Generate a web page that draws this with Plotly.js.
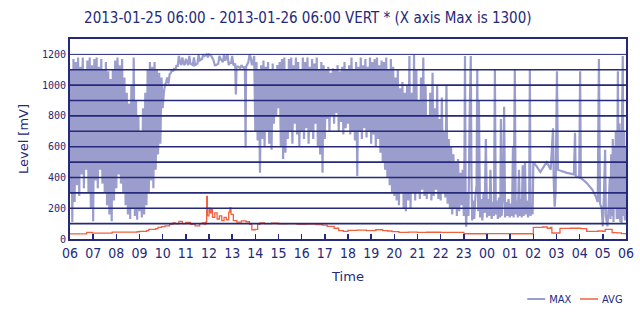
<!DOCTYPE html>
<html>
<head>
<meta charset="utf-8">
<script src="https://cdn.plot.ly/plotly-3.0.1.min.js"></script>
<style>
html,body{margin:0;padding:0;background:#fff;}
#chart{width:640px;height:320px;}
</style>
</head>
<body>
<div id="chart"></div>
<script>
// Hours after 2013-01-25 06:00
const hourTicks = [0,1,2,3,4,5,6,7,8,9,10,11,12,13,14,15,16,17,18,19,20,21,22,23,24];
const hourLabels = ['06','07','08','09','10','11','12','13','14','15','16','17','18','19','20','21','22','23','00','01','02','03','04','05','06'];
const levelTicks = [0,200,400,600,800,1000,1200];
const levelLabels = ['0','200','400','600','800','1000','1200'];
const gridLevels = [100,200,300,400,500,600,700,800,900,1000,1100,1200];

const maxTime = [
0.00,0.05,0.10,0.15,0.20,0.25,0.30,0.35,0.40,0.45,0.50,0.55,0.60,0.65,0.70,0.75,0.80,0.85,0.90,0.95,
1.00,1.05,1.10,1.15,1.20,1.25,1.30,1.35,1.40,1.45,1.50,1.55,1.60,1.65,1.70,1.75,1.80,1.85,1.90,1.95,
2.00,2.05,2.10,2.15,2.20,2.25,2.30,2.35,2.40,2.45,2.50,2.55,2.60,2.65,2.70,2.75,2.80,2.85,2.90,2.95,
3.00,3.05,3.10,3.15,3.20,3.25,3.30,3.35,3.40,3.45,3.50,3.55,3.60,3.65,3.70,3.75,3.80,3.85,3.90,3.95,
4.00,4.05,4.10,4.15,4.20,4.25,4.30,4.35,4.40,4.45,4.50,4.55,4.60,4.65,4.70,4.75,4.80,4.85,4.90,4.95,
5.00,5.10,5.15,5.20,5.30,5.35,5.40,5.50,5.55,5.60,5.70,5.75,5.80,5.90,5.95,
6.00,6.10,6.20,6.25,6.30,6.40,6.45,6.50,6.60,6.65,6.70,6.80,6.85,6.90,6.95,
7.00,7.05,7.13,7.16,7.19,7.25,7.35,7.40,7.50,7.55,7.58,7.60,7.70,7.75,7.80,7.85,7.90,7.95,
8.00,8.05,8.10,8.15,8.20,8.25,8.30,8.35,8.40,8.45,8.50,8.55,8.60,8.65,8.70,8.75,8.80,8.85,8.90,8.95,
9.00,9.05,9.10,9.15,9.20,9.25,9.30,9.35,9.40,9.45,9.50,9.55,9.60,9.65,9.70,9.75,9.80,9.85,9.90,9.95,
10.00,10.05,10.10,10.15,10.20,10.25,10.30,10.35,10.40,10.45,10.50,10.55,10.60,10.65,10.70,10.75,10.80,10.85,10.90,10.95,
11.00,11.05,11.10,11.15,11.20,11.25,11.30,11.35,11.40,11.45,11.50,11.55,11.60,11.65,11.70,11.75,11.80,11.85,11.90,11.95,
12.00,12.05,12.10,12.15,12.20,12.25,12.30,12.35,12.40,12.45,12.50,12.55,12.60,12.65,12.70,12.75,12.80,12.85,12.90,12.95,
13.00,13.05,13.10,13.15,13.20,13.25,13.30,13.35,13.40,13.45,13.50,13.55,13.60,13.65,13.70,13.75,13.80,13.85,13.90,13.95,
14.00,14.05,14.10,14.15,14.20,14.25,14.30,14.35,14.40,14.45,14.50,14.55,14.60,14.65,14.70,14.75,14.80,14.85,14.90,14.95,
15.00,15.05,15.10,15.15,15.20,15.25,15.30,15.35,15.40,15.45,15.50,15.55,15.60,15.65,15.70,15.75,15.80,15.85,15.90,15.95,
16.00,16.05,16.10,16.15,16.20,16.25,16.30,16.35,16.40,16.45,16.50,16.55,16.60,16.65,16.70,16.75,16.80,16.85,
16.90,16.95,17.00,17.03,17.05,17.08,17.10,17.15,17.20,17.25,17.30,17.33,17.36,
17.40,17.45,17.50,17.55,17.58,17.62,17.65,17.70,17.75,17.80,17.85,17.90,17.95,
18.00,18.05,18.10,18.15,18.20,18.25,18.30,18.34,18.38,18.42,18.47,18.52,18.57,18.60,18.63,18.68,18.74,18.78,18.83,18.88,18.93,18.98,
19.03,19.08,19.12,19.15,19.20,19.24,19.28,19.33,19.38,19.42,19.47,19.50,19.54,19.58,19.64,19.68,19.72,19.77,19.82,19.85,19.88,19.93,19.97,
20.00,20.15,20.30,20.45,20.58,20.75,20.85,20.88,20.92,20.96,21.02,21.06,21.15,21.45,21.75,21.80,21.83,21.98,22.02,22.05,22.10,22.30,22.55,22.70,22.78,22.83,22.88,22.95,23.00,23.05,23.10,23.13,23.20,23.25,23.30,
23.33,23.36,23.40,23.43,23.46,23.50,23.53,23.56,23.60,23.63,23.65,23.68,23.72,23.75,23.78,23.81,23.83,23.86,23.89,23.92,23.95,23.98,24.00
];
const maxLevel = [
300,1100,110,1170,240,1150,350,1180,280,1120,420,1180,330,1100,450,1160,300,1180,200,1130,
115,1170,380,1180,330,1120,450,1170,360,1100,300,1150,220,1090,160,1040,115,1100,250,1160,
330,1180,420,1130,360,1170,300,1050,220,950,160,880,130,1000,200,1180,150,900,125,800,
180,700,140,850,160,950,220,1100,300,1150,380,1120,330,1150,450,1100,550,1080,620,1050,
850,950,1000,1020,1050,1010,1070,1080,1100,1090,1110,1100,1130,1120,1190,1150,1130,1180,1140,1130,
1170,1130,1190,1140,1130,1180,1130,1140,1200,1160,1170,1200,1190,1200,1180,
1200,1190,1160,1130,1130,1140,1190,1170,1150,1200,1160,1200,1130,1150,1140,
1190,1130,1140,940,1120,1120,1110,1130,1110,1120,594,1120,1150,1200,1180,1130,1150,1190,
700,1150,640,1100,430,1130,650,1160,600,1120,700,1150,620,1100,580,1140,750,1100,800,1130,
850,1150,600,1170,520,1180,560,1100,650,1170,700,1180,620,1130,750,1180,680,1150,600,1100,
700,1180,650,1150,720,1180,620,1120,700,1170,650,1140,750,1180,600,1100,550,1150,430,1130,
650,1100,780,1120,700,1080,800,1110,750,1100,820,1130,700,1090,760,1120,680,1150,720,1100,
750,1130,680,1180,700,1100,640,1150,410,1120,700,1180,650,1130,720,1170,660,1120,700,1180,
620,1150,680,1170,600,1180,650,1130,560,1160,500,1150,450,1180,400,1100,350,1170,300,1120,
280,1050,250,1100,220,980,300,1020,200,950,180,1000,250,1190,200,950,300,1200,250,1100,
300,900,260,1050,320,1180,280,1000,260,800,300,950,250,1080,280,850,320,1000,260,780,
250,920,300,700,270,1000,230,650,200,600,160,550,200,500,150,520,180,430,
220,450,150,600,1190,200,80,300,150,800,1190,400,120,
250,130,280,350,1100,180,900,140,260,120,300,170,650,
140,260,150,450,130,240,150,1100,160,250,130,270,140,780,150,250,860,140,240,150,260,140,
230,150,600,140,1100,160,250,140,450,150,260,140,480,150,500,160,250,140,240,1100,150,230,160,
500,470,435,470,500,450,720,380,210,300,1090,450,445,430,420,690,410,400,1090,395,390,365,320,275,240,1170,230,200,82,300,580,150,82,210,400,
130,550,150,650,110,600,200,700,130,650,1090,130,750,110,700,100,800,1190,150,700,120,600,150
];

const avgTime = [0.00,0.70,0.72,0.95,0.97,1.80,1.82,2.90,3.00,3.30,3.40,3.70,3.80,3.95,4.10,4.30,4.45,4.55,4.70,4.85,5.00,5.20,5.40,5.60,5.70,5.80,5.85,5.90,5.93,6.00,6.05,6.10,6.15,6.25,6.35,6.45,6.55,6.65,6.75,6.85,6.90,6.95,7.05,7.20,7.40,7.60,7.75,7.85,8.00,8.10,8.20,8.40,8.70,9.00,9.40,9.80,10.20,10.60,10.90,11.10,11.40,11.60,11.80,12.00,12.40,12.80,13.20,13.50,13.70,13.90,14.20,14.60,15.00,15.40,16.00,16.80,17.00,18.00,19.00,19.90,20.00,20.40,20.60,20.75,20.80,21.10,21.15,21.60,22.05,22.30,22.80,23.00,23.10,23.25,23.40,23.60,23.80,24.00];
const avgLevel = [33,33,43,43,38,38,45,47,50,55,62,68,75,80,85,95,105,98,115,100,108,95,85,100,105,95,110,277,150,200,170,190,140,170,130,150,120,140,125,175,202,160,120,110,118,112,95,60,62,95,105,100,103,98,100,95,97,93,90,82,70,55,50,56,58,54,60,55,52,48,43,45,43,44,43,43,34,35,34,34,76,78,70,76,39,39,69,70,68,50,52,50,62,63,42,40,35,30];

const navy = '#24297a';
const sans = "'DejaVu Sans', sans-serif";
const cond = "'DejaVu Sans Condensed', 'DejaVu Sans', sans-serif";
const mono = "'DejaVu Sans Mono', monospace";

const traces = [
  {x: maxTime, y: maxLevel, type: 'scatter', mode: 'lines', name: 'MAX', legend: 'legend',
   line: {color: '#9b9dcd', width: 2.2, simplify: false}},
  {x: avgTime, y: avgLevel, type: 'scatter', mode: 'lines', name: 'AVG', legend: 'legend2',
   line: {color: '#f0623f', width: 1.3, shape: 'hv'}}
];

const shapes = gridLevels.map(v => ({
  type: 'line', xref: 'paper', x0: 0, x1: 1, yref: 'y', y0: v, y1: v,
  line: {color: navy, width: v === 1200 ? 1 : 1.6}, layer: 'above'
}));

const legendStyle = {orientation: 'h', xanchor: 'left', y: -0.30, yanchor: 'middle',
  font: {family: cond, size: 11, color: navy}, bgcolor: 'rgba(0,0,0,0)'};

const layout = {
  width: 640, height: 320,
  paper_bgcolor: '#fff', plot_bgcolor: '#fff',
  margin: {l: 70, r: 14, t: 39, b: 81, autoexpand: false},
  title: {text: '2013-01-25 06:00 - 2013-01-26 06:00 VERT * (X axis Max is 1300)',
          font: {family: cond, size: 15, color: navy},
          x: 0.481, xanchor: 'center', y: 0.945, yanchor: 'middle'},
  xaxis: {range: [0, 24], tickvals: hourTicks, ticktext: hourLabels,
          tickangle: 0, automargin: false,
          ticks: 'inside', ticklen: 5, tickwidth: 1.5, tickcolor: navy,
          showline: true, linewidth: 2, linecolor: navy, mirror: true,
          showgrid: false, zeroline: false,
          tickfont: {family: cond, size: 14, color: navy},
          title: {text: 'Time', font: {family: sans, size: 13, color: navy}, standoff: 12}},
  yaxis: {range: [0, 1300], tickvals: levelTicks, ticktext: levelLabels,
          automargin: false,
          ticks: '', showline: true, linewidth: 2, linecolor: navy, mirror: true,
          showgrid: false, zeroline: false,
          tickfont: {family: mono, size: 10, color: navy},
          title: {text: 'Level [mV]', font: {family: sans, size: 13, color: navy}, standoff: 10}},
  shapes: shapes,
  showlegend: true,
  legend: Object.assign({x: 0.79}, legendStyle),
  legend2: Object.assign({x: 0.885}, legendStyle),
  hovermode: false
};

Plotly.newPlot('chart', traces, layout, {staticPlot: true, displayModeBar: false}).then(() => {
  document.querySelectorAll('.legendlines path').forEach(p => p.setAttribute('d', 'M18,0h18'));
});
</script>
</body>
</html>
